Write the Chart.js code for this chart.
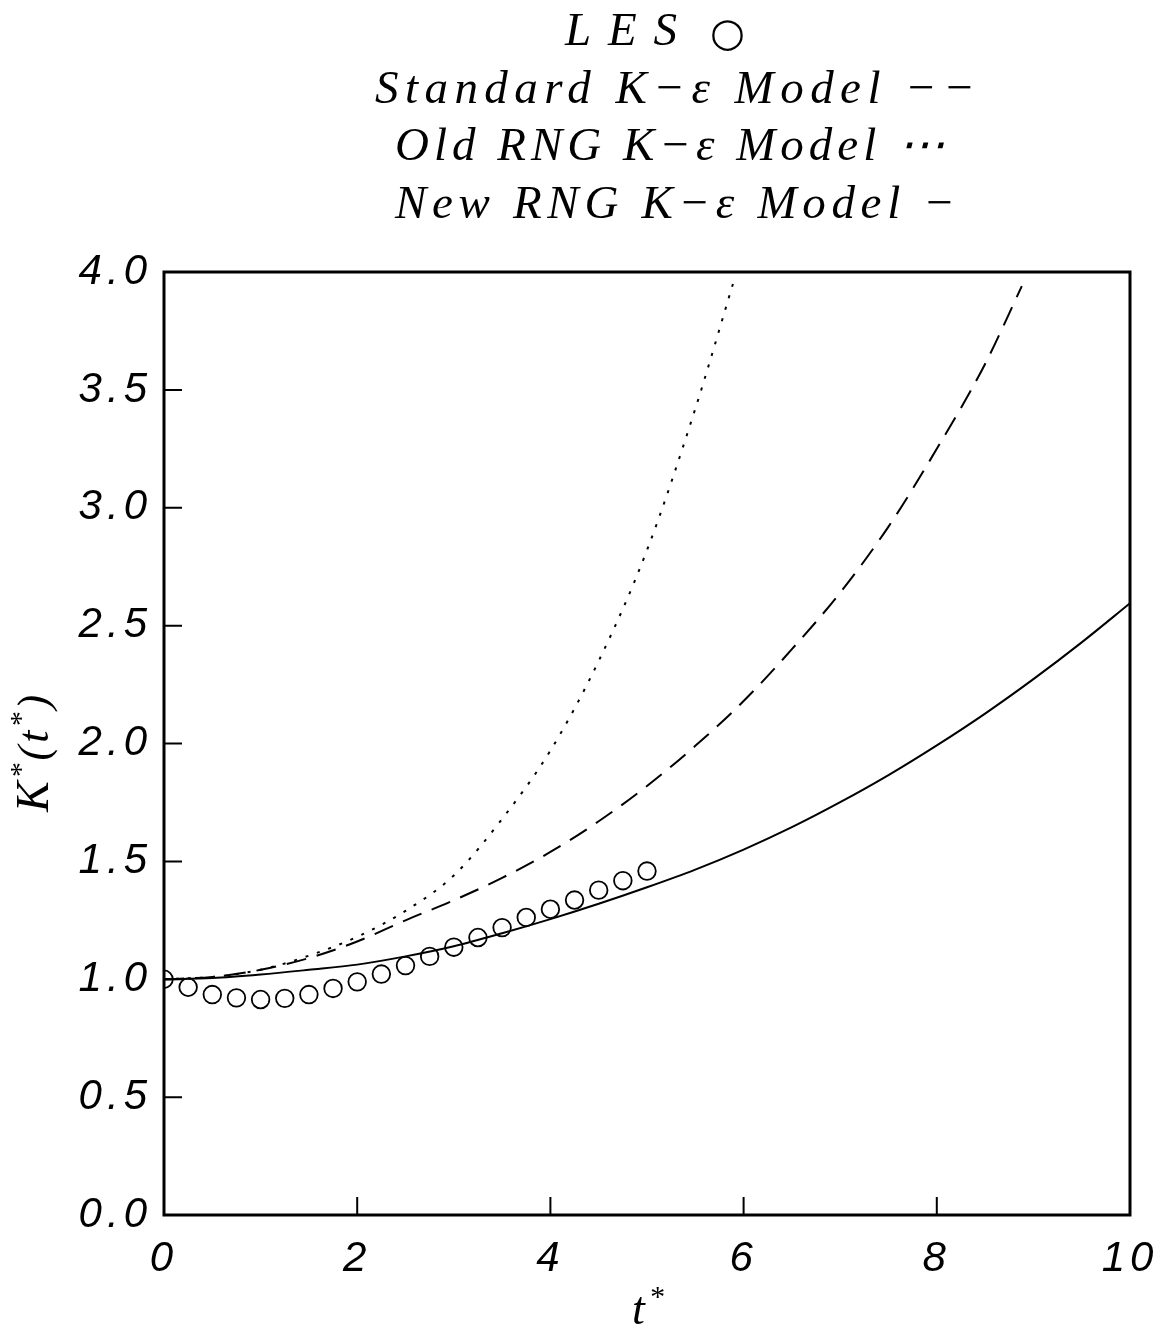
<!DOCTYPE html>
<html><head><meta charset="utf-8">
<style>html,body{margin:0;padding:0;background:#fff;} canvas{display:block;}</style>
<script src="https://cdn.jsdelivr.net/npm/chart.js@4.4.1/dist/chart.umd.min.js"></script>
</head><body>
<canvas id="c" width="1166" height="1329"></canvas>
<script>
// ---- data ----
const lesT = [0,0.25,0.5,0.75,1,1.25,1.5,1.75,2,2.25,2.5,2.75,3,3.25,3.5,3.75,4,4.25,4.5,4.75,5];
const lesK = [1.00,0.966,0.935,0.921,0.914,0.919,0.935,0.961,0.989,1.022,1.058,1.097,1.136,1.177,1.219,1.262,1.297,1.336,1.378,1.418,1.459];

const stdT = [0,0.5,1,1.5,2,2.5,3,3.5,4,4.5,5,5.5,6,6.5,7,7.5,8,8.5,8.88];
const stdK = [1.0,1.01,1.04,1.09,1.16,1.25,1.335,1.43,1.54,1.67,1.82,1.99,2.18,2.40,2.64,2.92,3.25,3.61,3.94];

const oldT = [0,0.5,1,1.5,2,2.5,3,3.5,4,4.5,5,5.5,5.89];
const oldK = [1.0,1.01,1.04,1.10,1.18,1.29,1.44,1.68,1.97,2.35,2.82,3.42,3.95];

const newT = [0,0.5,1,1.5,2,2.5,3,3.5,4,4.5,5,5.5,6,6.5,7,7.5,8,8.5,9,9.5,10];
const newK = [1.0,1.005,1.02,1.04,1.062,1.097,1.14,1.195,1.255,1.32,1.39,1.465,1.55,1.645,1.751,1.866,1.992,2.127,2.273,2.429,2.595];

const xTicksStep = 2, yTicksStep = 0.5;
const legendLines = ['LES', 'Standard K\u2212\u03B5 Model \u2212\u2212', 'Old RNG K\u2212\u03B5 Model \u22EF', 'New RNG K\u2212\u03B5 Model \u2212'];
const lesSymbol = '\u25CB';

const pts = (xs, ys) => xs.map((x, i) => ({x, y: ys[i]}));

// ---- layout / style ----
const legendPos = [{x0:565, by:45, w:112},{x0:375, by:103, w:600},{x0:395, by:160, w:550},{x0:395, by:218, w:560}];
const serif = '"Liberation Serif", "DejaVu Serif", serif';

const spacingPlugin = {
  id: 'spacing',
  beforeDraw(chart){ chart.ctx.letterSpacing = '5px'; },
  afterDraw(chart){ chart.ctx.letterSpacing = '0px'; }
};

const framePlugin = {
  id: 'frame',
  afterDatasetsDraw(chart){
    const {ctx, chartArea:a, scales:{x, y}} = chart;
    ctx.save();
    ctx.strokeStyle = '#000';
    ctx.lineWidth = 2;
    ctx.beginPath();
    y.ticks.forEach(t => { if (t.value > 0 && t.value < 4) { const py = y.getPixelForValue(t.value); ctx.moveTo(a.left, py); ctx.lineTo(a.left + 18, py); } });
    x.ticks.forEach(t => { if (t.value > 0 && t.value < 10) { const px = x.getPixelForValue(t.value); ctx.moveTo(px, a.bottom); ctx.lineTo(px, a.bottom - 18); } });
    ctx.stroke();
    ctx.lineWidth = 3;
    ctx.strokeRect(a.left, a.top, a.right - a.left, a.bottom - a.top);
    ctx.restore();
  }
};

const textPlugin = {
  id: 'texts',
  afterDraw(chart){
    const ctx = chart.ctx;
    ctx.save();
    ctx.fillStyle = '#000';
    ctx.textBaseline = 'alphabetic';
    ctx.textAlign = 'left';
    ctx.font = 'italic 47px ' + serif;
    legendLines.forEach((s, i) => {
      const p = legendPos[i];
      ctx.letterSpacing = '0px';
      const nat = ctx.measureText(s).width;
      const n = [...s].length;
      const sp = Math.max(0, (p.w - nat) / (n - 1));
      ctx.letterSpacing = sp + 'px';
      ctx.fillText(s, p.x0, p.by);
    });
    ctx.letterSpacing = '0px';
    // LES symbol: open circle
    ctx.font = '40px "DejaVu Sans", sans-serif';
    ctx.fillText(lesSymbol, 710, 46);
    // y-axis title K*(t*)
    const parts = [['K', 46, 0], ['*', 30, -18], ['(', 44, 0], ['t', 44, 0], ['*', 30, -18], [')', 44, 0]];
    ctx.save();
    ctx.translate(48, 752);
    ctx.rotate(-Math.PI / 2);
    let total = 0;
    parts.forEach(p => { ctx.font = 'italic ' + p[1] + 'px ' + serif; total += ctx.measureText(p[0]).width + 3; });
    let xx = -total / 2;
    parts.forEach(p => { ctx.font = 'italic ' + p[1] + 'px ' + serif; ctx.fillText(p[0], xx, p[2]); xx += ctx.measureText(p[0]).width + 3; });
    ctx.restore();
    // x-axis title t*
    ctx.font = 'italic 46px ' + serif;
    ctx.fillText('t', 632, 1324);
    const tw = ctx.measureText('t').width;
    ctx.font = 'italic 30px ' + serif;
    ctx.fillText('*', 632 + tw + 4, 1306);
    ctx.restore();
  }
};

const lineDs = (label, data, dash) => ({
  label, data, showLine: true, pointRadius: 0, borderColor: '#000', borderWidth: 2,
  borderDash: dash, cubicInterpolationMode: 'monotone', fill: false
});

new Chart(document.getElementById('c'), {
  type: 'scatter',
  data: {
    datasets: [
      { label: 'LES', data: pts(lesT, lesK), showLine: false, pointStyle: 'circle', pointRadius: 8.8,
        borderColor: '#000', borderWidth: 1.8, backgroundColor: 'rgba(0,0,0,0)' },
      lineDs('Standard K-\u03B5 Model', pts(stdT, stdK), [20, 11]),
      lineDs('Old RNG K-\u03B5 Model', pts(oldT, oldK), [3, 9]),
      lineDs('New RNG K-\u03B5 Model', pts(newT, newK), [])
    ]
  },
  options: {
    responsive: false, animation: false, devicePixelRatio: 1,
    layout: { padding: { top: 272, right: 36, left: 0, bottom: 0 } },
    plugins: { legend: { display: false }, title: { display: false }, tooltip: { enabled: false } },
    scales: {
      x: {
        type: 'linear', min: 0, max: 10,
        grid: { display: false, drawTicks: false }, border: { display: false },
        ticks: { stepSize: xTicksStep, padding: 19, color: '#000', maxRotation: 0,
          font: { family: '"Liberation Sans", Arial, sans-serif', size: 42, style: 'italic' },
          callback: v => String(v) },
        afterFit: s => { s.height = 114; s.paddingLeft = 0; s.paddingRight = 0; }
      },
      y: {
        type: 'linear', min: 0, max: 4,
        grid: { display: false, drawTicks: false }, border: { display: false },
        ticks: { stepSize: yTicksStep, padding: 12, color: '#000',
          font: { family: '"Liberation Sans", Arial, sans-serif', size: 42, style: 'italic' },
          callback: v => v.toFixed(1) },
        afterFit: s => { s.width = 164; s.paddingTop = 0; s.paddingBottom = 0; }
      }
    }
  },
  plugins: [spacingPlugin, framePlugin, textPlugin]
});
</script>
</body></html>
